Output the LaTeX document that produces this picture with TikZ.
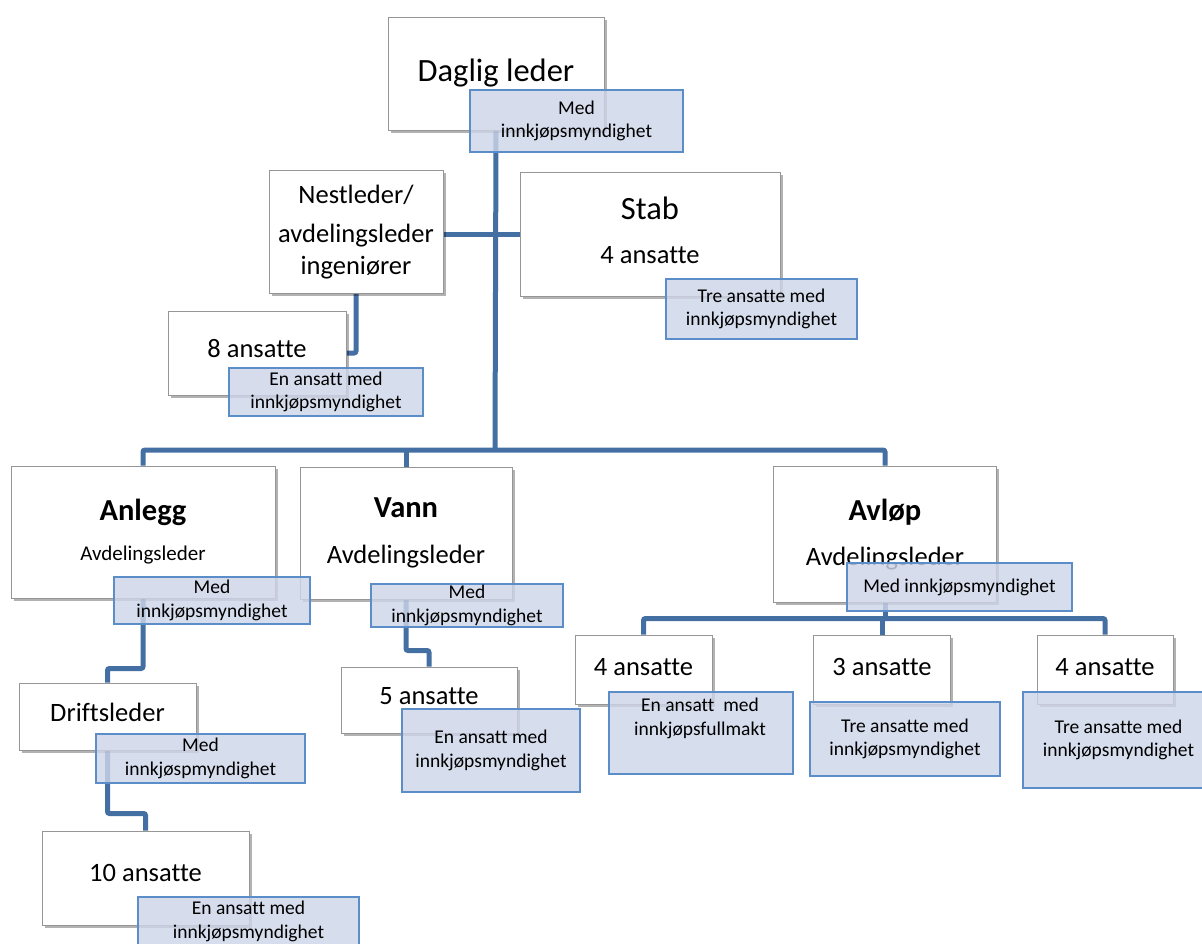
\documentclass[tikz,border=0pt]{standalone}
\usepackage{fontspec}
\setmainfont{Carlito}[Ligatures=NoCommon]
\usetikzlibrary{shadows}
\pgfdeclarelayer{background}
\pgfsetlayers{background,main}
\definecolor{conn}{RGB}{68,111,163}
\definecolor{bfill}{RGB}{205,213,232}
\definecolor{bdraw}{RGB}{91,141,200}
\definecolor{wdraw}{RGB}{150,150,150}
\newcommand\fs[2]{\fontsize{#1}{#2}\selectfont}
\tikzset{
  wbox/.style={draw=wdraw, line width=1pt, fill=white, rectangle, inner sep=0pt, align=center,
    drop shadow={shadow xshift=2.5pt, shadow yshift=-2.5pt, fill=black, opacity=0.3}},
  bbox/.style={draw=bdraw, line width=1.5pt, fill=bfill, fill opacity=0.82, text opacity=1,
    rectangle, inner sep=0pt, align=center, font=\fs{19.5}{23.5}},
  plain/.style={inner sep=0pt, align=center, font=\fs{19.5}{23.5}},
  connline/.style={draw=conn, line width=5pt, rounded corners=2pt},
  mid/.style={font=\fs{26.5}{32}}
}
\begin{document}
\begin{tikzpicture}[x=1pt,y=-1pt]
\useasboundingbox (0,0) rectangle (1202,943);
% white boxes
\node[wbox, minimum width=216, minimum height=113, font=\fs{32.5}{38}] (dl) at (496,73.5) {Daglig leder};
\node[wbox, minimum width=174, minimum height=123, font=\fs{26.5}{32}] (nl) at (356,232) {Nestleder/\\[7pt]avdelingsleder\\ingeniører};
\node[wbox, minimum width=260, minimum height=124, mid, text depth=8pt] (stab) at (650,234) {{\fs{32.5}{38}Stab}\\[12pt]4 ansatte};
\node[wbox, minimum width=178, minimum height=84, mid, text depth=10pt] (a8) at (257,353) {8 ansatte};
\node[wbox, minimum width=264, minimum height=132, mid] (anl) at (143,532) {{\bfseries\fs{30.5}{36}Anlegg}\\[8pt]{\fs{21}{25}Avdelingsleder}};
\node[wbox, minimum width=212, minimum height=132, mid] (vann) at (406,533) {{\bfseries\fs{30.5}{36}Vann}\\[14pt]Avdelingsleder};
\node[wbox, minimum width=223, minimum height=136, mid, text depth=4pt] (avl) at (885,534) {{\bfseries\fs{30.5}{36}Avløp}\\[13pt]Avdelingsleder};
\node[wbox, minimum width=137, minimum height=69, mid, text depth=6pt] (a4l) at (643.5,669.5) {4 ansatte};
\node[wbox, minimum width=137, minimum height=69, mid, text depth=6pt] (a3) at (882,669.5) {3 ansatte};
\node[wbox, minimum width=136, minimum height=69, mid, text depth=6pt] (a4r) at (1105,669.5) {4 ansatte};
\node[wbox, minimum width=176, minimum height=66, mid, text depth=8pt] (a5) at (429,700) {5 ansatte};
\node[wbox, minimum width=177, minimum height=67, mid, text depth=8pt] (drift) at (107.5,716.5) {Driftsleder};
\node[wbox, minimum width=207, minimum height=94, mid, text depth=10pt] (a10) at (145.5,878) {10 ansatte};
% blue boxes
\node[bbox, minimum width=213, minimum height=62] (dlb) at (576.5,121) {Med\\innkjøpsmyndighet};
\node[bbox, minimum width=191, minimum height=60] (stabb) at (761.5,309) {Tre ansatte med\\innkjøpsmyndighet};
\node[bbox, minimum width=194, minimum height=48] (a8b) at (326,392) {En ansatt med\\innkjøpsmyndighet};
\node[bbox, minimum width=196, minimum height=47] (anlb) at (212,600.5) {Med\\innkjøpsmyndighet};
\node[bbox, minimum width=192, minimum height=43] (vannb) at (467,605.5) {Med\\innkjøpsmyndighet};
\node[bbox, minimum width=225, minimum height=48] (avlb) at (959.5,587) {Med innkjøpsmyndighet};
\node[bbox, minimum width=184, minimum height=82] (a4lb) at (701,733) {};
\node[plain, anchor=north] (a4lbt) at (700,698) {En ansatt\ \ med\\innkjøpsfullmakt};
\node[bbox, minimum width=190, minimum height=74] (a3b) at (905,739) {Tre ansatte med\\innkjøpsmyndighet};
\node[bbox, minimum width=191, minimum height=96] (a4rb) at (1118.5,740) {Tre ansatte med\\innkjøpsmyndighet};
\node[bbox, minimum width=178, minimum height=83] (a5b) at (491,750.5) {En ansatt med\\innkjøpsmyndighet};
\node[bbox, minimum width=209, minimum height=49] (driftb) at (200.5,758.5) {Med\\innkjøspmyndighet};
\node[bbox, minimum width=221, minimum height=53, text depth=8pt] (a10b) at (248.5,923.5) {En ansatt med\\innkjøpsmyndighet};
% connectors
\coordinate (busC) at (495,450);
\begin{pgfonlayer}{background}
\draw[connline] (dl.south) -- (busC);
\draw[connline] (nl.east |- stab.west) -- (stab.west);
\draw[connline] (anl.north) |- (busC) -| (avl.north);
\draw[connline] (vann.north) -- (vann.north |- busC);
\draw[connline] (nl.south) |- (a8.east);
\draw[connline] (anl.south) -- ++(0,70) -| (drift.north);
\draw[connline] (drift.south) -- ++(0,63) -| (a10.north);
\draw[connline] (vann.south) -- ++(0,51) -| (a5.north);
\draw[connline] (avl.south) -- ++(0,16) coordinate (ab);
\draw[connline] (a4l.north) |- (ab) -| (a4r.north);
\draw[connline] (a3.north) -- (a3.north |- ab);
\end{pgfonlayer}
\end{tikzpicture}
\end{document}
